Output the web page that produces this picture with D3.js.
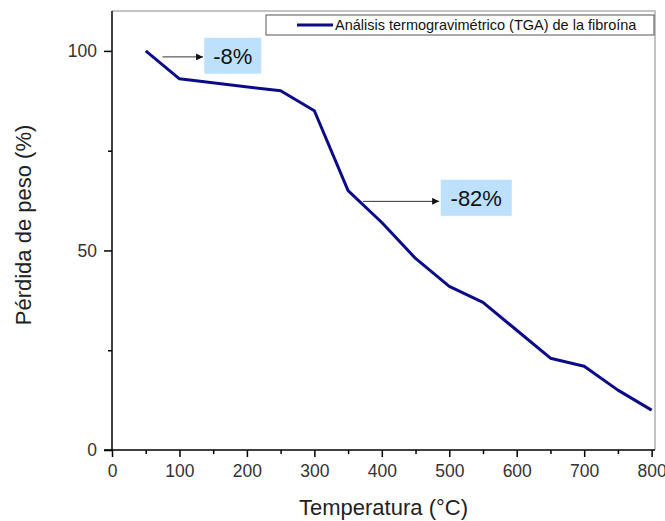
<!DOCTYPE html>
<html>
<head>
<meta charset="utf-8">
<script src="https://cdn.jsdelivr.net/npm/d3@7"></script>
<style>
  body { margin: 0; background: #fff; }
  text { font-family: "Liberation Sans", Arial, sans-serif; }
</style>
</head>
<body>
<div id="chart"></div>
<script>
// datos TGA
var temperaturas = [50, 100, 250, 300, 350, 400, 450, 500, 550, 600, 650, 700, 750, 800];
var perdida = [100, 93, 90, 85, 65, 57, 48, 41, 37, 30, 23, 21, 15, 10];
var xTicks = [0, 100, 200, 300, 400, 500, 600, 700, 800];
var yTicks = [0, 50, 100];
var serieNombre = "Análisis termogravimétrico (TGA) de la fibroína";
// anotaciones: texto, flecha desde/hasta (temperatura), nivel flecha, centro caja
var notaTextos = ["-8%", "-82%"];
var notaDesde = [75, 372];
var notaHasta = [135, 485];
var notaNivel = [98.5, 62.3];
var notaCentroX = [179, 540];
var notaCentroY = [98.8, 63.2];

var W = 665, H = 521;
var svg = d3.select("#chart").append("svg").attr("width", W).attr("height", H);

var x = d3.scaleLinear().domain([0, 805]).range([112, 655]);
var y = d3.scaleLinear().domain([0, 110]).range([450, 11]);

// marco gris superior / derecho
svg.append("path")
    .attr("d", "M" + x(0) + "," + y(110) + "H" + x(805) + "V" + y(0))
    .attr("fill", "none").attr("stroke", "#b0b0b0").attr("stroke-width", 1.5);

// eje x
var gx = svg.append("g").attr("transform", "translate(0," + y(0) + ")");
gx.call(d3.axisBottom(x).tickValues(d3.range(50, 801, 100)).tickSize(4).tickFormat(""));
gx.select(".domain").remove();
gx.selectAll(".tick line").attr("stroke", "#000").attr("stroke-width", 1.5);
var gx2 = svg.append("g").attr("transform", "translate(0," + y(0) + ")");
gx2.call(d3.axisBottom(x).tickValues(xTicks).tickSize(7).tickPadding(8));
gx2.select(".domain").attr("d", "M" + (x(0) - 8) + ",0H" + x(805)).attr("stroke-width", 1.5);
gx2.selectAll(".tick line").attr("stroke-width", 1.5);
gx2.selectAll(".tick text").attr("font-size", 17.5).attr("fill", "#333")
    .attr("font-family", "Liberation Sans, Arial, sans-serif");

// eje y
var gy = svg.append("g").attr("transform", "translate(" + x(0) + ",0)");
gy.call(d3.axisLeft(y).tickValues([25, 75]).tickSize(4).tickFormat(""));
gy.select(".domain").remove();
gy.selectAll(".tick line").attr("stroke-width", 1.5);
var gy2 = svg.append("g").attr("transform", "translate(" + x(0) + ",0)");
gy2.call(d3.axisLeft(y).tickValues(yTicks).tickSize(8).tickPadding(7));
gy2.select(".domain").attr("d", "M0," + y(110) + "V" + y(0)).attr("stroke-width", 1.5);
gy2.selectAll(".tick line").attr("stroke-width", 1.5);
gy2.selectAll(".tick text").attr("font-size", 17.5).attr("fill", "#333")
    .attr("font-family", "Liberation Sans, Arial, sans-serif");

// títulos de ejes
svg.append("text")
    .attr("x", (x(0) + x(805)) / 2).attr("y", 515)
    .attr("text-anchor", "middle").attr("font-size", 22).attr("fill", "#222")
    .text("Temperatura (°C)");
svg.append("text")
    .attr("transform", "translate(31,225) rotate(-90)")
    .attr("text-anchor", "middle").attr("font-size", 22).attr("fill", "#222")
    .text("Pérdida de peso (%)");

// curva
var linea = d3.line()
    .x(function (d, i) { return x(temperaturas[i]); })
    .y(function (d) { return y(d); });
svg.append("path")
    .datum(perdida)
    .attr("d", linea)
    .attr("fill", "none")
    .attr("stroke", "#0b0b8a")
    .attr("stroke-width", 3)
    .attr("stroke-linejoin", "round");

// flechas y cajas
svg.append("defs").append("marker")
    .attr("id", "punta").attr("viewBox", "0 0 10 10")
    .attr("refX", 10).attr("refY", 5)
    .attr("markerWidth", 10).attr("markerHeight", 7)
    .attr("markerUnits", "userSpaceOnUse")
    .attr("orient", "auto")
    .append("path").attr("d", "M0,0L10,5L0,10Z").attr("fill", "#111");

notaTextos.forEach(function (t, i) {
    svg.append("line")
        .attr("x1", x(notaDesde[i])).attr("x2", x(notaHasta[i]))
        .attr("y1", y(notaNivel[i])).attr("y2", y(notaNivel[i]))
        .attr("stroke", "#333").attr("stroke-width", 1)
        .attr("marker-end", "url(#punta)");
    var cx = x(notaCentroX[i]), cy = y(notaCentroY[i]);
    var bw = t.length > 3 ? 71 : 57;
    svg.append("rect")
        .attr("x", cx - bw / 2).attr("y", cy - 18)
        .attr("width", bw).attr("height", 36)
        .attr("fill", "#bde0fd");
    svg.append("text")
        .attr("x", cx).attr("y", cy + 8)
        .attr("text-anchor", "middle").attr("font-size", 22).attr("fill", "#111")
        .text(t);
});

// leyenda
var lg = svg.append("g");
lg.append("rect")
    .attr("x", 266).attr("y", 15).attr("width", 388).attr("height", 20)
    .attr("fill", "#fff").attr("stroke", "#555").attr("stroke-width", 1);
lg.append("line")
    .attr("x1", 297).attr("x2", 333).attr("y1", 25).attr("y2", 25)
    .attr("stroke", "#0b0b8a").attr("stroke-width", 3);
lg.append("text")
    .attr("x", 335).attr("y", 30).attr("font-size", 14.5).attr("fill", "#111")
    .text(serieNombre);
</script>
</body>
</html>
